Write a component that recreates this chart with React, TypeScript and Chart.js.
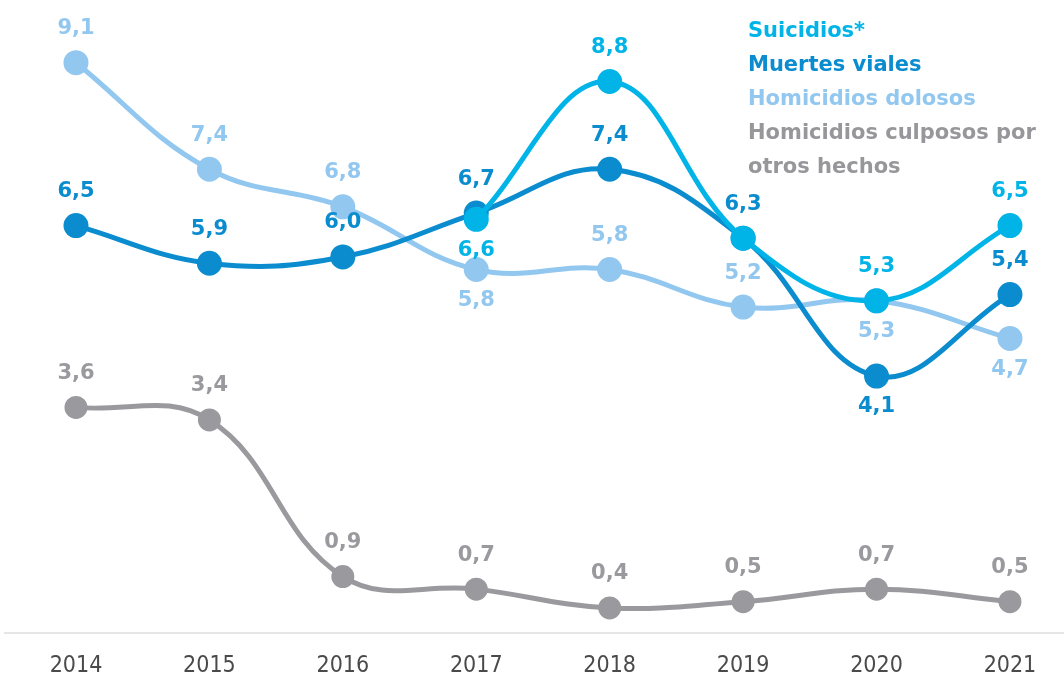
import React, { useEffect, useRef } from "react";
import { Chart, registerables } from "chart.js";

Chart.register(...registerables);

const years = [2014, 2015, 2016, 2017, 2018, 2019, 2020, 2021];
const suicidios = [null, null, null, 6.6, 8.8, 6.3, 5.3, 6.5];
const muertesViales = [6.5, 5.9, 6.0, 6.7, 7.4, 6.3, 4.1, 5.4];
const homicidiosDolosos = [9.1, 7.4, 6.8, 5.8, 5.8, 5.2, 5.3, 4.7];
const homicidiosCulposos = [3.6, 3.4, 0.9, 0.7, 0.4, 0.5, 0.7, 0.5];

// label placement per point: "a" above, "b" below, "" none
const suicidiosLabels = ["", "", "", "b", "a", "", "a", "a"];
const muertesLabels = ["a", "a", "a", "a", "a", "a", "b", "a"];
const dolososLabels = ["a", "a", "a", "b", "a", "a", "b", "b"];
const culpososLabels = ["a", "a", "a", "a", "a", "a", "a", "a"];

const legendLines = [
  { text: "Suicidios*", color: "#00b4e8" },
  { text: "Muertes viales", color: "#0a8ccf" },
  { text: "Homicidios dolosos", color: "#92c7ef" },
  { text: "Homicidios culposos por", color: "#97979b" },
  { text: "otros hechos", color: "#97979b" },
];

const COLORS = {
  suicidios: "#00b4e8",
  muertes: "#0a8ccf",
  dolosos: "#92c7ef",
  culposos: "#9a9a9e",
};

const labelFont = "bold 21px 'DejaVu Sans', 'Open Sans', sans-serif";

const dataLabelPlugin = {
  id: "dataLabels",
  afterDatasetsDraw(chart: any) {
    const ctx = chart.ctx;
    ctx.save();
    ctx.font = labelFont;
    ctx.textAlign = "center";
    ctx.textBaseline = "middle";
    chart.data.datasets.forEach((ds: any, i: number) => {
      const meta = chart.getDatasetMeta(i);
      meta.data.forEach((pt: any, j: number) => {
        const v = ds.data[j]?.y;
        const place = ds.labelPlaces[j];
        if (v == null || !place) return;
        const txt = v.toFixed(1).replace(".", ",");
        ctx.fillStyle = ds.borderColor;
        const y = place === "a" ? pt.y - 34 : pt.y + 31;
        ctx.fillText(txt, pt.x, y);
      });
    });
    ctx.restore();
  },
};

function toPts(arr: (number | null)[]) {
  return years.map((yr, i) => ({ x: yr, y: arr[i] }));
}

export default function App() {
  const ref = useRef<HTMLCanvasElement>(null);
  useEffect(() => {
    const ds = (label: string, data: (number | null)[], color: string, places: string[], radius = 10) => ({
      label,
      data: toPts(data),
      borderColor: color,
      backgroundColor: color,
      pointBackgroundColor: color,
      pointBorderColor: color,
      pointRadius: radius,
      pointHoverRadius: radius,
      borderWidth: 5,
      tension: 0.4,
      clip: false,
      labelPlaces: places,
    });
    const chart = new Chart(ref.current!, {
      type: "line",
      data: {
        datasets: [
          ds("Suicidios*", suicidios, COLORS.suicidios, suicidiosLabels),
          ds("Muertes viales", muertesViales, COLORS.muertes, muertesLabels),
          ds("Homicidios dolosos", homicidiosDolosos, COLORS.dolosos, dolososLabels),
          ds("Homicidios culposos por otros hechos", homicidiosCulposos, COLORS.culposos, culpososLabels, 9),
        ] as any,
      },
      options: {
        animation: false,
        responsive: false,
        devicePixelRatio: 1,
        layout: { autoPadding: false, padding: { left: 5, right: 0, top: 0, bottom: 0 } },
        plugins: { legend: { display: false }, tooltip: { enabled: false } },
        scales: {
          x: {
            type: "linear",
            min: 2013.468,
            max: 2021.405,
            grid: { display: false, drawTicks: false },
            border: { display: true, color: "#e6e6e6", width: 2 },
            afterBuildTicks: (scale: any) => {
              scale.ticks = years.map((v) => ({ value: v }));
            },
            afterFit: (scale: any) => {
              scale.height = 46;
              scale.paddingLeft = 0;
              scale.paddingRight = 0;
            },
            ticks: {
              padding: 19,
              color: "#4a4a4a",
              font: { family: "'DejaVu Sans Condensed', 'Open Sans', sans-serif", size: 23 },
              callback: (v: any) => String(v),
            },
          },
          y: {
            display: false,
            min: 0,
            max: 10.1,
          },
        },
      },
      plugins: [dataLabelPlugin],
    });
    return () => chart.destroy();
  }, []);

  return (
    <div style={{ position: "absolute", left: 0, top: 0, width: 1064, height: 679, background: "#fff" }}>
      <canvas ref={ref} width={1064} height={679} style={{ position: "absolute", left: 0, top: 0 }} />
      <div
        style={{
          position: "absolute",
          left: 748,
          top: 13,
          fontFamily: "'DejaVu Sans', 'Open Sans', sans-serif",
          fontWeight: "bold",
          fontSize: 21,
          lineHeight: "34px",
        }}
      >
        {legendLines.map((l, i) => (
          <div key={i} style={{ color: l.color, whiteSpace: "nowrap" }}>
            {l.text}
          </div>
        ))}
      </div>
    </div>
  );
}
